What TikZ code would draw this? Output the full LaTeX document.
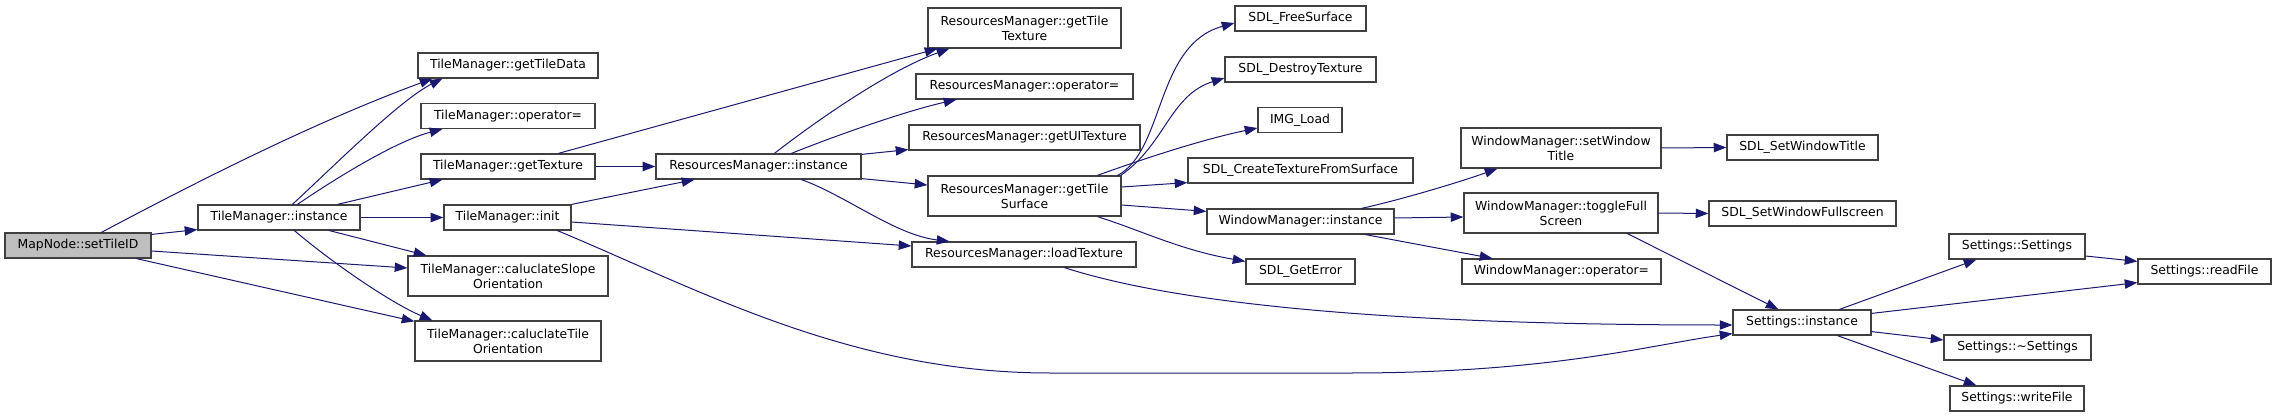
\documentclass[tikz,border=0pt]{standalone}
\usepackage{fontspec}
\setmainfont{DejaVu Sans}
\usetikzlibrary{arrows.meta,calc}
\definecolor{edgeblue}{HTML}{191970}
\definecolor{boxgray}{HTML}{404040}
\definecolor{fillgray}{HTML}{BFBFBF}
\begin{document}
\begin{tikzpicture}[x=0.75pt,y=-0.75pt,
  bx/.style 2 args={draw=boxgray, line width=0.9pt, inner sep=0pt, minimum width=#1*0.75pt, minimum height=#2*0.75pt, align=center, font=\fontsize{9.3pt}{11.25pt}\selectfont, fill=white},
  ce/.style={draw=edgeblue, line width=0.75pt, -{Triangle[length=9.5pt,width=7pt]}}]
\useasboundingbox (0,0) rectangle (2276,417);
\node[bx={146}{25}, fill=fillgray] (setTileID) at (78,245.5) {MapNode::setTileID};
\node[bx={162}{25}] (tmInstance) at (279,217.5) {TileManager::instance};
\node[bx={180}{25}] (getTileData) at (508,65.5) {TileManager::getTileData};
\node[bx={174}{25}] (tmOp) at (508,116) {TileManager::operator=};
\node[bx={174}{25}] (getTexture) at (508,166.5) {TileManager::getTexture};
\node[bx={127}{25}] (init) at (507.5,217.5) {TileManager::init};
\node[bx={200}{40}] (slope) at (508,276) {TileManager::caluclateSlope\\Orientation};
\node[bx={186}{40}] (tileOr) at (508,341) {TileManager::caluclateTile\\Orientation};
\node[bx={205}{25}] (rmInstance) at (758.5,166.5) {ResourcesManager::instance};
\node[bx={193}{40}] (rmTileTex) at (1024.5,28) {ResourcesManager::getTile\\Texture};
\node[bx={217}{25}] (rmOp) at (1024.5,86.5) {ResourcesManager::operator=};
\node[bx={231}{25}] (rmUI) at (1024.5,137.5) {ResourcesManager::getUITexture};
\node[bx={193}{40}] (rmSurf) at (1024.5,196) {ResourcesManager::getTile\\Surface};
\node[bx={224}{25}] (rmLoad) at (1024,254.5) {ResourcesManager::loadTexture};
\node[bx={131}{25}] (freeSurf) at (1300.5,18.5) {SDL\_FreeSurface};
\node[bx={151}{25}] (destroyTex) at (1300.5,69.5) {SDL\_DestroyTexture};
\node[bx={84}{25}] (imgLoad) at (1300,120) {IMG\_Load};
\node[bx={225}{25}] (createTex) at (1300.5,170.5) {SDL\_CreateTextureFromSurface};
\node[bx={187}{25}] (wmInstance) at (1300.5,221.5) {WindowManager::instance};
\node[bx={109}{25}] (getError) at (1300.5,271.5) {SDL\_GetError};
\node[bx={200}{40}] (setWinTitle) at (1561,148) {WindowManager::setWindow\\Title};
\node[bx={194}{40}] (toggleFull) at (1561,213) {WindowManager::toggleFull\\Screen};
\node[bx={199}{25}] (wmOp) at (1561.5,271.5) {WindowManager::operator=};
\node[bx={151}{25}] (sdlSetTitle) at (1802.5,147.5) {SDL\_SetWindowTitle};
\node[bx={187}{25}] (sdlSetFull) at (1802.5,213.5) {SDL\_SetWindowFullscreen};
\node[bx={138}{25}] (setInstance) at (1802,322.5) {Settings::instance};
\node[bx={136}{25}] (setSettings) at (2017,246.5) {Settings::Settings};
\node[bx={133}{25}] (readFile) at (2204.5,271.5) {Settings::readFile};
\node[bx={147}{25}] (destructor) at (2017.5,347.5) {Settings::\textasciitilde Settings};
\node[bx={134}{25}] (writeFile) at (2017,398.5) {Settings::writeFile};
% edges
\draw[ce] ($(setTileID.north west)+(97,0)$) .. controls (215,172) and (323,119) .. ($(getTileData.south west)+(15,0)$);
\draw[ce] ($(setTileID.north east)+(0,2)$) -- ($(tmInstance.south west)+(0,-1)$);
\draw[ce] ($(setTileID.east)+(0,5.5)$) -- ($(slope.west)+(0,-8)$);
\draw[ce] ($(setTileID.south west)+(132,0)$) -- ($(tileOr.north west)+(0,1)$);
\draw[ce] ($(tmInstance.north west)+(95,0)$) .. controls (335,165) and (400,100) .. ($(getTileData.south west)+(25,0)$);
\draw[ce] ($(tmInstance.north west)+(100,0)$) .. controls (345,172) and (400,140) .. ($(tmOp.south west)+(22,0)$);
\draw[ce] ($(tmInstance.north west)+(140,0)$) -- ($(getTexture.south west)+(22,0)$);
\draw[ce] (tmInstance.east) -- (init.west);
\draw[ce] ($(tmInstance.south west)+(132,0)$) -- ($(slope.north west)+(19,0)$);
\draw[ce] ($(tmInstance.south west)+(97,0)$) .. controls (335,265) and (393,304) .. ($(tileOr.north west)+(18,0)$);
\draw[ce] ($(getTexture.north west)+(138,0)$) -- ($(rmTileTex.south west)+(10,0)$);
\draw[ce] (getTexture.east) -- (rmInstance.west);
\draw[ce] (init.north east) -- ($(rmInstance.south west)+(39,0)$);
\draw[ce] ($(init.east)+(0,4.5)$) -- ($(rmLoad.west)+(0,-8.5)$);
\draw[ce] ($(init.south west)+(114,0)$) .. controls (700,290) and (850,373) .. (1050,373) -- (1350,373) .. controls (1550,373) and (1650,345) .. ($(setInstance.south west)+(0,-2)$);
\draw[ce] ($(rmInstance.north west)+(119,0)$) .. controls (820,118) and (890,70) .. ($(rmTileTex.south west)+(22,0)$);
\draw[ce] ($(rmInstance.north west)+(136,0)$) .. controls (845,132) and (910,110) .. ($(rmOp.south west)+(41,0)$);
\draw[ce] ($(rmInstance.north east)+(0,1)$) -- ($(rmUI.south west)+(0,-1)$);
\draw[ce] ($(rmInstance.south east)+(0,-1)$) -- ($(rmSurf.west)+(0,-11)$);
\draw[ce] ($(rmInstance.south west)+(146,0)$) .. controls (845,195) and (895,235) .. ($(rmLoad.north west)+(38,0)$);
\draw[ce] ($(rmSurf.north east)+(-4,0)$) .. controls (1165,150) and (1155,45) .. ($(freeSurf.west)+(0,4.5)$);
\draw[ce] ($(rmSurf.north east)+(-1,0)$) .. controls (1165,145) and (1170,95) .. ($(destroyTex.west)+(0,8.5)$);
\draw[ce] ($(rmSurf.north west)+(170,0)$) .. controls (1140,160) and (1200,140) .. ($(imgLoad.west)+(0,8)$);
\draw[ce] ($(rmSurf.east)+(0,-9)$) -- ($(createTex.south west)+(0,-1)$);
\draw[ce] ($(rmSurf.east)+(0,9)$) -- ($(wmInstance.north west)+(0,3)$);
\draw[ce] ($(rmSurf.south west)+(170,0)$) .. controls (1140,230) and (1180,250) .. ($(getError.north west)+(0,3)$);
\draw[ce] ($(rmLoad.south west)+(153,0)$) .. controls (1180,305) and (1400,325) .. ($(setInstance.west)+(0,2.5)$);
\draw[ce] ($(wmInstance.north west)+(155,0)$) .. controls (1400,200) and (1460,182) .. ($(setWinTitle.south west)+(37,0)$);
\draw[ce] ($(wmInstance.east)+(0,-3.5)$) -- ($(toggleFull.west)+(0,4)$);
\draw[ce] ($(wmInstance.south west)+(159,0)$) -- ($(wmOp.north west)+(31,0)$);
\draw[ce] (setWinTitle.east) -- (sdlSetTitle.west);
\draw[ce] (toggleFull.east) -- (sdlSetFull.west);
\draw[ce] ($(toggleFull.south west)+(164,0)$) -- ($(setInstance.north west)+(46,0)$);
\draw[ce] ($(setInstance.north west)+(107,0)$) -- ($(setSettings.south west)+(28,0)$);
\draw[ce] ($(setInstance.north east)+(0,4)$) -- ($(readFile.south west)+(0,-2)$);
\draw[ce] ($(setInstance.south east)+(0,-4)$) -- ($(destructor.west)+(0,-7.5)$);
\draw[ce] ($(setInstance.south west)+(105,0)$) -- ($(writeFile.north west)+(27,0)$);
\draw[ce] ($(setSettings.east)+(0,9.5)$) -- ($(readFile.north west)+(0,3)$);
\end{tikzpicture}
\end{document}
